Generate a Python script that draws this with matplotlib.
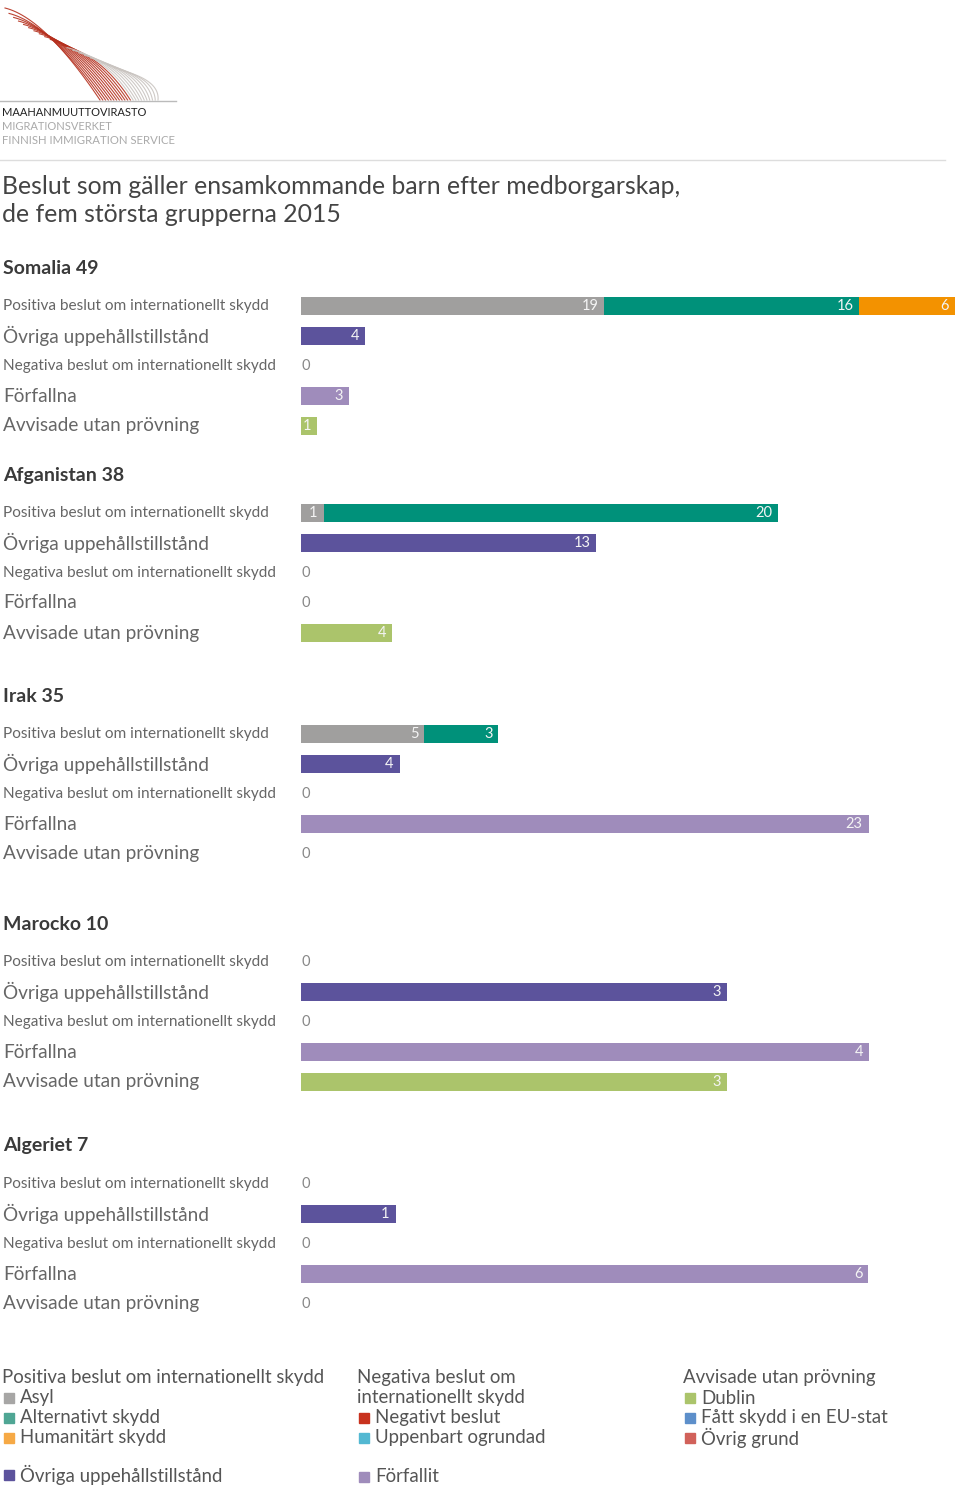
import numpy as np
import matplotlib
matplotlib.use("Agg")
import matplotlib.pyplot as plt
from matplotlib.patches import Rectangle
from matplotlib.transforms import blended_transform_factory

plt.rcParams['font.family'] = ['Lato', 'DejaVu Sans']

# data
groups = ["Somalia 49", "Afganistan 38", "Irak 35", "Marocko 10", "Algeriet 7"]
rows = ["Positiva beslut om internationellt skydd", "Övriga uppehållstillstånd",
        "Negativa beslut om internationellt skydd", "Förfallna", "Avvisade utan prövning"]
asyl = [19, 1, 5, 0, 0]
alternativt = [16, 20, 3, 0, 0]
humanitart = [6, 0, 0, 0, 0]
ovriga = [4, 13, 4, 3, 1]
negativa = [0, 0, 0, 0, 0]
forfallna = [3, 0, 23, 4, 6]
dublin = [1, 4, 0, 3, 0]

# layout per group (pixel positions + own x scale)
first_row_px = [306, 513, 734, 962, 1184]
xmax = [41.3, 29.0, 26.7, 4.64, 6.97]

C_ASYL = '#a09f9e'
C_ALT = '#00917a'
C_HUM = '#f39200'
C_OVR = '#5c539c'
C_FOR = '#9f8cbb'
C_DUB = '#abc46b'
C_NEG = '#c8321e'
C_UPP = '#53b8d2'
C_EU = '#5d8fca'
C_OVG = '#d1615a'

W, H = 960, 1489
fig = plt.figure(figsize=(W / 100, H / 100), dpi=100)

def fx(x):
    return x / W

def fy(y):
    return 1 - y / H

# logo
lax = fig.add_axes([0, fy(104), fx(180), 104 / H])
lax.set_xlim(0, 180)
lax.set_ylim(104, 0)
lax.axis('off')
n = 22
for i in range(n):
    t = i / (n - 1)
    sx = 5 + 115 * t ** 1.1
    sy = 8 + 62 * t ** 0.8
    ex = 100 + 58 * t
    s = np.linspace(0, 1, 30)
    cx, cy = sx + 40, sy + 10
    xs = (1 - s) ** 2 * sx + 2 * (1 - s) * s * cx + s ** 2 * ex
    ys = (1 - s) ** 2 * sy + 2 * (1 - s) * s * cy + s ** 2 * 100
    col = '#b5301e' if t < 0.55 else '#c9c4c0'
    lax.plot(xs, ys, color=col, lw=0.8, alpha=0.9)
lax.plot([0, 176], [101, 101], color='#bbbbbb', lw=1)
fig.text(fx(2), fy(112), "MAAHANMUUTTOVIRASTO", fontsize=8, color='#222222', va='center')
fig.text(fx(2), fy(126), "MIGRATIONSVERKET", fontsize=8, color='#aaaaaa', va='center')
fig.text(fx(2), fy(140), "FINNISH IMMIGRATION SERVICE", fontsize=8.2, color='#aaaaaa', va='center')
fig.add_artist(plt.Line2D([0, fx(945)], [fy(160), fy(160)], color='#dddddd', lw=1))

fig.text(fx(2), fy(186), "Beslut som gäller ensamkommande barn efter medborgarskap,",
         fontsize=17.8, color='#444444', va='center')
fig.text(fx(2), fy(215), "de fem största grupperna 2015",
         fontsize=17.8, color='#444444', va='center')

label_sizes = [11.1, 13.7, 11.1, 13.7, 13.7]

for g, name in enumerate(groups):
    top = first_row_px[g] - 15
    ax = fig.add_axes([fx(301), fy(top + 150), fx(659), 150 / H])
    ax.set_xlim(0, xmax[g])
    ax.set_ylim(4.5, -0.5)
    ax.axis('off')

    fig.text(fx(3), fy(first_row_px[g] - 38), name, fontsize=14, fontweight='bold',
             color='#3a3a3a', va='center')

    tr = blended_transform_factory(fig.transFigure, ax.transData)
    for r, lab in enumerate(rows):
        ax.text(fx(3), r, lab, transform=tr, fontsize=label_sizes[r],
                color='#666666', va='center')

    bh = 0.6
    segs = [
        (0, [(asyl[g], C_ASYL), (alternativt[g], C_ALT), (humanitart[g], C_HUM)]),
        (1, [(ovriga[g], C_OVR)]),
        (2, [(negativa[g], C_NEG)]),
        (3, [(forfallna[g], C_FOR)]),
        (4, [(dublin[g], C_DUB)]),
    ]
    unit = 659 / xmax[g]
    for r, parts in segs:
        left = 0
        total = sum(v for v, _ in parts)
        if total == 0:
            ax.text(0, r, "0", fontsize=10.5, color='#888888',
                    va='center', ha='left')
            continue
        for v, c in parts:
            if v == 0:
                continue
            ax.barh(r, v, left=left, height=bh, color=c)
            ax.text(left + v - 6 / unit, r, str(v), fontsize=10.5, color='#f4f4f4',
                    va='center', ha='right')
            left += v

# legend (swatches are a bit paler than the bars in the original)
LS = 13.4

def legend_item(x, y, color, text):
    fig.add_artist(Rectangle((fx(x), fy(y + 5)), fx(10), 10 / H, color=color,
                             transform=fig.transFigure))
    fig.text(fx(x + 16), fy(y), text, fontsize=LS, color='#555555', va='center')

fig.text(fx(2), fy(1378), "Positiva beslut om internationellt skydd", fontsize=LS,
         color='#555555', va='center')
legend_item(4, 1398, '#a7a6a5', "Asyl")
legend_item(4, 1418, '#4fa694', "Alternativt skydd")
legend_item(4, 1438, '#f6a945', "Humanitärt skydd")
legend_item(4, 1475, C_OVR, "Övriga uppehållstillstånd")

fig.text(fx(357), fy(1378), "Negativa beslut om", fontsize=LS, color='#555555', va='center')
fig.text(fx(357), fy(1398), "internationellt skydd", fontsize=LS, color='#555555', va='center')
legend_item(359, 1418, C_NEG, "Negativt beslut")
legend_item(359, 1438, C_UPP, "Uppenbart ogrundad")
legend_item(359, 1477, C_FOR, "Förfallit")

fig.text(fx(683), fy(1378), "Avvisade utan prövning", fontsize=LS, color='#555555', va='center')
legend_item(685, 1398, C_DUB, "Dublin")
legend_item(685, 1418, C_EU, "Fått skydd i en EU-stat")
legend_item(685, 1438, C_OVG, "Övrig grund")

fig.savefig("out.png", dpi=100, facecolor='white')
